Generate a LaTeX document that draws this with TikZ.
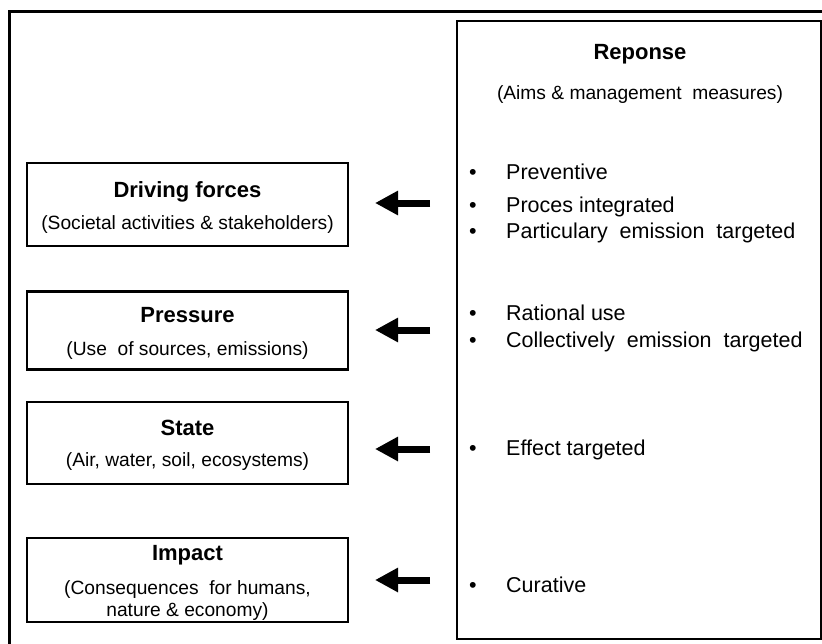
\documentclass[tikz,border=0pt]{standalone}
\usepackage{fontspec}
\setmainfont{Liberation Sans}
\usetikzlibrary{arrows.meta}
\begin{document}
\begin{tikzpicture}[x=1pt,y=-1pt,
  frame/.style={draw=black,line width=3pt},
  dpsbox/.style={draw=black,line width=2.6pt,minimum width=321pt,inner sep=0pt},
  title/.style={anchor=base,inner sep=0pt,font=\fontsize{22}{26}\selectfont\bfseries},
  sub/.style={anchor=base,inner sep=0pt,font=\fontsize{19.2}{23}\selectfont},
  item/.style={anchor=base west,inner sep=0pt,font=\fontsize{21.5}{26}\selectfont},
  dot/.style={anchor=base,inner sep=0pt,font=\fontsize{21.5}{26}\selectfont},
  fat/.style={line width=7pt,-{Triangle[length=23pt,width=23pt]}}]
\clip (0,0) rectangle (822,643);
\fill[white] (0,0) rectangle (822,643);
% outer frame
\draw[frame] (9,11) rectangle (840,660);
% response box
\draw[line width=2.6pt] (457,21) rectangle (821.5,639);
\node[title] (rtitle) at (640,59) {Reponse};
\node[sub] (rsub) at (640,99) {(Aims \& management\ \ measures)};
% left boxes
\node[dpsbox,minimum height=83pt] (driving) at (187.5,204.5) {};
\node[dpsbox,minimum height=78pt] (pressure) at (187.5,330.5) {};
\node[dpsbox,minimum height=82pt] (state) at (187.5,443) {};
\node[dpsbox,minimum height=84pt] (impact) at (187.5,580) {};
\node[title] (dt) at (187.5,197) {Driving forces};
\node[sub] (ds) at (187.5,229) {(Societal activities \& stakeholders)};
\node[title] (pt) at (187.5,322) {Pressure};
\node[sub] (ps) at (187.5,355) {(Use\ \ of sources, emissions)};
\node[title] (st) at (187.5,435) {State};
\node[sub] (ss) at (187.5,466) {(Air, water, soil, ecosystems)};
\node[title] (it) at (187.5,560) {Impact};
\node[sub] (is1) at (187.5,594) {(Consequences\ \ for humans,};
\node[sub] (is2) at (187.5,616) {nature \& economy)};
% bullet lists
\foreach \n/\y/\t in {b1/179/Preventive,b2/212/Proces integrated,b3/238/Particulary\ \ emission\ \ targeted,b4/320/Rational use,b5/347/Collectively\ \ emission\ \ targeted,b6/455/Effect targeted,b7/592/Curative}{
  \node[dot] (\n d) at (473,\y) {\textbullet};
  \node[item] (\n) at (506,\y) {\t};
}
% arrows
\coordinate (a1s) at (430,203); \coordinate (a1e) at (375,203);
\coordinate (a2s) at (430,330); \coordinate (a2e) at (375,330);
\coordinate (a3s) at (430,449); \coordinate (a3e) at (375,449);
\coordinate (a4s) at (430,580); \coordinate (a4e) at (375,580);
\draw[fat] (a1s) -- (a1e);
\draw[fat] (a2s) -- (a2e);
\draw[fat] (a3s) -- (a3e);
\draw[fat] (a4s) -- (a4e);
\end{tikzpicture}
\end{document}
